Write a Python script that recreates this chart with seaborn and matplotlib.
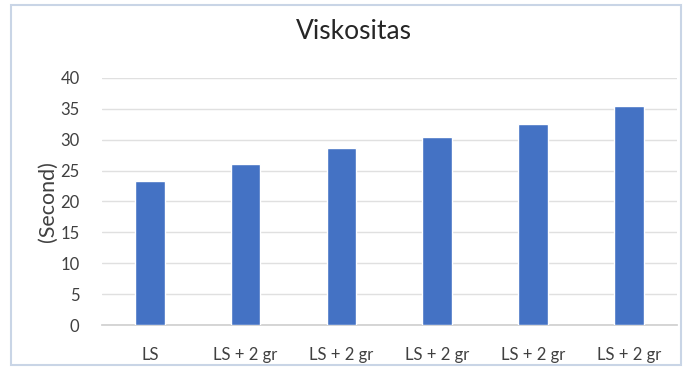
import matplotlib
matplotlib.use("Agg")
import matplotlib.pyplot as plt
import seaborn as sns
import pandas as pd
from matplotlib.patches import Rectangle

categories = ["LS", "LS + 2 gr", "LS + 2 gr", "LS + 2 gr", "LS + 2 gr", "LS + 2 gr"]
values = [23.3, 26.1, 28.6, 30.4, 32.5, 35.5]
yticks = [0, 5, 10, 15, 20, 25, 30, 35, 40]

df = pd.DataFrame({"pos": [str(i) for i in range(len(values))], "value": values})

sns.set_theme(style="white")
plt.rcParams["font.family"] = ["Lato", "DejaVu Sans"]

fig = plt.figure(figsize=(6.88, 3.69), dpi=100)
ax = fig.add_axes([0.148, 0.119, 0.836, 0.670])

sns.barplot(data=df, x="pos", y="value", color="#4472C4", width=0.31,
            saturation=1, ax=ax, zorder=3)

ax.set_xlim(-0.5, len(values) - 0.5)
ax.set_ylim(0, 40)
ax.set_yticks(yticks)
ax.set_xticks(range(len(categories)))
ax.set_xticklabels(categories)
ax.yaxis.grid(True, color="#e0e0e0", linewidth=1.0, zorder=0)
ax.tick_params(axis="both", length=0, labelsize=12, colors="#404040")
ax.tick_params(axis="y", pad=16)
ax.tick_params(axis="x", pad=16)
for side in ["top", "right", "left"]:
    ax.spines[side].set_visible(False)
ax.spines["bottom"].set_color("#d0d0d0")
ax.set_xlabel("")
ax.set_ylabel("(Second)", fontsize=15.5, color="#404040", labelpad=2)

fig.text(0.514, 0.915, "Viskositas", ha="center", va="center",
         fontsize=19, color="#262626")

# light frame around the chart area
fig.patches.append(Rectangle((0.016, 0.012), 0.974, 0.975, transform=fig.transFigure,
                             fill=False, edgecolor="#c9d5e6", linewidth=1.5))

fig.savefig("out.png", dpi=100)
